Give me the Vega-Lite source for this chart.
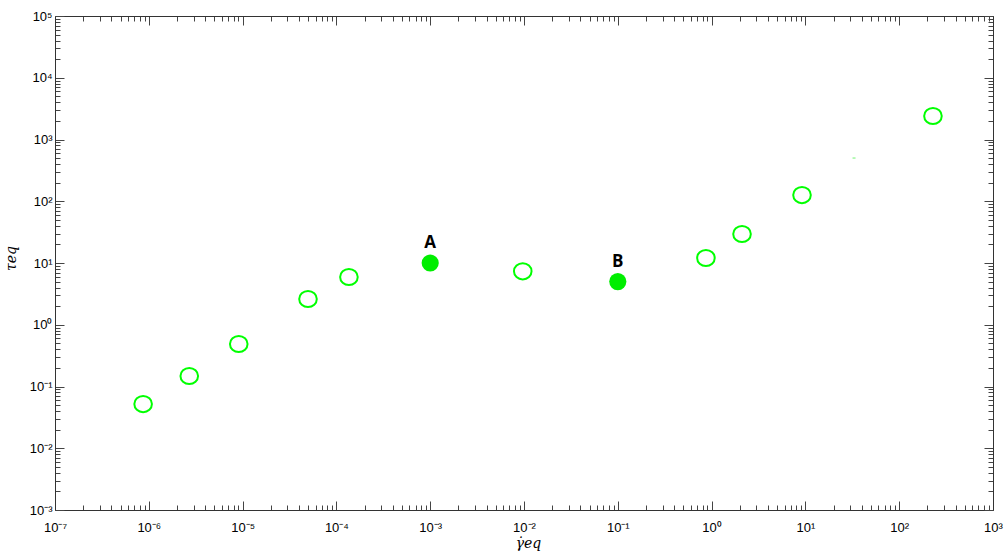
{
  "$schema": "https://vega.github.io/schema/vega-lite/v6.json",
  "autosize": "none",
  "width": 938,
  "height": 494,
  "padding": {"left": 55, "top": 16, "right": 12, "bottom": 46},
  "background": "white",
  "config": {
    "view": {"stroke": null},
    "axis": {
      "domainColor": "#333333",
      "domainWidth": 1,
      "tickColor": "#444444",
      "tickWidth": 1,
      "grid": false,
      "labelFont": "Liberation Sans",
      "labelFontSize": 13,
      "labelColor": "#000000",
      "labelOverlap": false,
      "labelFlush": false,
      "tickCount": 100
    }
  },
  "data": {
    "values": [
      {"rate": 8.7e-7, "stress": 0.052, "kind": "open", "label": ""},
      {"rate": 2.7e-6, "stress": 0.148, "kind": "open", "label": ""},
      {"rate": 9.1e-6, "stress": 0.488, "kind": "open", "label": ""},
      {"rate": 4.98e-5, "stress": 2.61, "kind": "open", "label": ""},
      {"rate": 1.36e-4, "stress": 5.93, "kind": "open", "label": ""},
      {"rate": 0.001, "stress": 10, "kind": "filled", "label": "A"},
      {"rate": 0.0097, "stress": 7.34, "kind": "open", "label": ""},
      {"rate": 0.1, "stress": 5, "kind": "filled", "label": "B"},
      {"rate": 0.87, "stress": 12.05, "kind": "open", "label": ""},
      {"rate": 2.11, "stress": 29.5, "kind": "open", "label": ""},
      {"rate": 9.2, "stress": 126, "kind": "open", "label": ""},
      {"rate": 33, "stress": 501, "kind": "dot", "label": ""},
      {"rate": 229, "stress": 2404, "kind": "open", "label": ""}
    ]
  },
  "resolve": {"axis": {"x": "independent", "y": "independent"}},
  "layer": [
    {
      "transform": [{"filter": "datum.kind === 'open'"}],
      "mark": {
        "type": "point",
        "shape": "M -1 0 A 1 0.92 0 1 0 1 0 A 1 0.92 0 1 0 -1 0 Z",
        "filled": false,
        "stroke": "#00ff00",
        "strokeWidth": 2,
        "opacity": 1,
        "size": 310
      },
      "encoding": {
        "x": {
          "field": "rate",
          "type": "quantitative",
          "scale": {"type": "log", "domain": [1e-7, 1000], "nice": false},
          "axis": {
            "orient": "bottom",
            "title": "γ̇eq",
            "titleFont": "DejaVu Serif",
            "titleFontStyle": "italic",
            "titleFontWeight": "normal",
            "titleFontSize": 14,
            "titleColor": "#000000",
            "titleBaseline": "alphabetic",
            "titleAlign": "center",
            "titleX": 473,
            "titleY": 37,
            "tickSize": {"condition": {"test": "abs(log(datum.value)/LN10 - round(log(datum.value)/LN10)) < 1e-6", "value": -9}, "value": -5},
            "labelPadding": 20,
            "labelExpr": "abs(log(datum.value)/LN10 - round(log(datum.value)/LN10)) < 1e-6 ? '10' + (round(log(datum.value)/LN10) < 0 ? '⁻' : '') + ['⁰','¹','²','³','⁴','⁵','⁶','⁷','⁸','⁹'][abs(round(log(datum.value)/LN10))] : ''"
          }
        },
        "y": {
          "field": "stress",
          "type": "quantitative",
          "scale": {"type": "log", "domain": [0.001, 100000], "nice": false},
          "axis": {
            "orient": "left",
            "title": "τeq",
            "titleFont": "DejaVu Serif",
            "titleFontStyle": "italic",
            "titleFontWeight": "normal",
            "titleFontSize": 14,
            "titleColor": "#000000",
            "titleAngle": -90,
            "titleAlign": "center",
            "titleBaseline": "middle",
            "titleX": -44,
            "titleY": 242,
            "tickSize": {"condition": {"test": "abs(log(datum.value)/LN10 - round(log(datum.value)/LN10)) < 1e-6", "value": -9}, "value": -5},
            "labelPadding": 12,
            "labelExpr": "abs(log(datum.value)/LN10 - round(log(datum.value)/LN10)) < 1e-6 ? '10' + (round(log(datum.value)/LN10) < 0 ? '⁻' : '') + ['⁰','¹','²','³','⁴','⁵','⁶','⁷','⁸','⁹'][abs(round(log(datum.value)/LN10))] : ''"
          }
        }
      }
    },
    {
      "transform": [{"filter": "datum.kind === 'filled'"}],
      "mark": {
        "type": "point",
        "shape": "circle",
        "filled": true,
        "fill": "#00ee00",
        "opacity": 1,
        "size": 295
      },
      "encoding": {
        "x": {"field": "rate", "type": "quantitative", "axis": null},
        "y": {"field": "stress", "type": "quantitative", "axis": null}
      }
    },
    {
      "transform": [{"filter": "datum.kind === 'dot'"}],
      "mark": {"type": "tick", "orient": "horizontal", "color": "#33ee33", "size": 3, "thickness": 1},
      "encoding": {
        "x": {"field": "rate", "type": "quantitative", "axis": null},
        "y": {"field": "stress", "type": "quantitative", "axis": null}
      }
    },
    {
      "transform": [{"filter": "datum.label !== ''"}],
      "mark": {
        "type": "text",
        "font": "Open Sans",
        "fontWeight": "bold",
        "fontSize": 17,
        "color": "#000000",
        "dy": -20
      },
      "encoding": {
        "text": {"field": "label"},
        "x": {
          "field": "rate",
          "type": "quantitative",
          "axis": {
            "orient": "top",
            "title": null,
            "labels": false,
            "tickSize": {"condition": {"test": "abs(log(datum.value)/LN10 - round(log(datum.value)/LN10)) < 1e-6", "value": -9}, "value": -5}
          }
        },
        "y": {
          "field": "stress",
          "type": "quantitative",
          "axis": {
            "orient": "right",
            "title": null,
            "labels": false,
            "tickSize": {"condition": {"test": "abs(log(datum.value)/LN10 - round(log(datum.value)/LN10)) < 1e-6", "value": -9}, "value": -5}
          }
        }
      }
    }
  ]
}
